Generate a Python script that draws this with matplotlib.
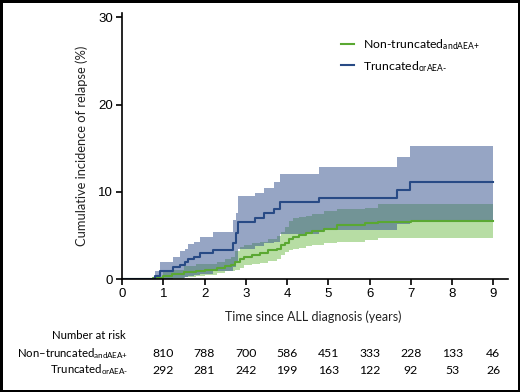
import matplotlib
matplotlib.use("Agg")
import matplotlib.pyplot as plt
from matplotlib.transforms import blended_transform_factory

plt.rcParams['font.family'] = ['Lato', 'DejaVu Sans']
plt.rcParams['mathtext.fontset'] = 'custom'
plt.rcParams['mathtext.rm'] = 'Lato'
plt.rcParams['mathtext.it'] = 'Lato'

# Truncated or AEA- (blue)
t_blue = [0, 0.81, 0.93, 1.23, 1.41, 1.53, 1.61, 1.75, 1.88, 2.2, 2.7, 2.77, 2.81,
          3.23, 3.43, 3.69, 3.83, 4.78, 6.67, 6.99, 9.0]
ci_blue = [0, 0.4, 1.0, 1.4, 1.6, 2.0, 2.3, 2.6, 3.0, 3.4, 4.1, 5.3, 6.6,
           7.0, 7.6, 8.0, 8.8, 9.3, 10.2, 11.1, 11.1]
hi_blue = [0, 1.0, 2.0, 2.6, 3.2, 3.5, 4.0, 4.3, 4.8, 5.4, 6.8, 7.6, 9.5,
           9.9, 10.5, 11.1, 12.1, 12.8, 14.0, 15.3, 15.3]
lo_blue = [0, 0, 0, 0.1, 0.2, 0.3, 0.4, 0.5, 0.6, 0.9, 1.4, 2.0, 3.5,
           3.8, 4.1, 4.3, 5.2, 5.7, 6.3, 6.8, 6.8]

# Non-truncated and AEA+ (green)
t_green = [0, 0.75, 1.0, 1.2, 1.5, 1.8, 2.0, 2.3, 2.5, 2.65, 2.75, 2.85, 2.95, 3.15,
           3.35, 3.55, 3.75, 3.85, 3.95, 4.05, 4.15, 4.3, 4.45, 4.6, 4.9, 5.2,
           5.9, 6.2, 7.0, 9.0]
ci_green = [0, 0.1, 0.4, 0.6, 0.8, 0.9, 1.1, 1.3, 1.5, 1.6, 2.0, 2.3, 2.6, 2.8,
            3.0, 3.3, 3.5, 3.9, 4.2, 4.6, 4.9, 5.1, 5.3, 5.5, 5.8, 6.2,
            6.4, 6.6, 6.7, 6.7]
hi_green = [0, 0.3, 0.9, 1.1, 1.5, 1.7, 1.8, 2.0, 2.3, 2.5, 3.2, 3.7, 3.9, 4.1,
            4.3, 4.6, 5.0, 5.4, 6.0, 6.7, 7.0, 7.1, 7.3, 7.5, 7.8, 8.1,
            8.2, 8.6, 8.6, 8.6]
lo_green = [0, 0, 0, 0, 0.3, 0.4, 0.5, 0.7, 0.9, 1.0, 1.1, 1.3, 1.6, 1.8,
            1.9, 2.1, 2.3, 2.8, 3.1, 3.3, 3.5, 3.6, 3.8, 3.9, 4.2, 4.3,
            4.5, 4.7, 4.7, 4.7]

risk_times = [1, 2, 3, 4, 5, 6, 7, 8, 9]
risk_green = [810, 788, 700, 586, 451, 333, 228, 133, 46]
risk_blue = [292, 281, 242, 199, 163, 122, 92, 53, 26]

label_green = 'Non-truncated$_{\\text{andAEA+}}$'
label_blue = 'Truncated$_{\\text{orAEA-}}$'

fig = plt.figure(figsize=(5.2, 3.92), dpi=100)
fig.patch.set_edgecolor('black')
fig.patch.set_linewidth(2.5)
ax = fig.add_axes([0.2346, 0.2875, 0.742, 0.6796])

ax.fill_between(t_green, lo_green, hi_green, step='post', color='#7dc25a', alpha=0.55, lw=0)
ax.fill_between(t_blue, lo_blue, hi_blue, step='post', color='#2e4d8a', alpha=0.5, lw=0)
ax.plot(t_green, ci_green, drawstyle='steps-post', color='#5aa832', lw=1.5, label=label_green)
ax.plot(t_blue, ci_blue, drawstyle='steps-post', color='#284a85', lw=1.5, label=label_blue)

ax.set_xlim(0, 9.35)
ax.set_ylim(0, 30.5)
ax.set_xticks(range(0, 10))
ax.set_yticks([0, 10, 20, 30])
ax.spines['top'].set_visible(False)
ax.spines['right'].set_visible(False)
for s in ['left', 'bottom']:
    ax.spines[s].set_linewidth(1.2)
ax.tick_params(direction='out', length=4, width=1.2, labelsize=9.5, pad=2.5)
for lab in ax.get_xticklabels() + ax.get_yticklabels():
    lab.set_family('Liberation Sans')
ax.set_ylabel('Cumulative incidence of relapse (%)', fontsize=9.3, color='#222222', labelpad=7)

ax.legend(loc='upper right', bbox_to_anchor=(0.955, 0.95), frameon=False, fontsize=8.8,
          handlelength=1.1, handletextpad=0.7, labelspacing=0.55)

# x label and number-at-risk table
fig.text(0.603, 0.191, 'Time since ALL diagnosis (years)', ha='center', va='center',
         fontsize=9, color='#222222')
fig.text(0.242, 0.145, 'Number at risk', ha='right', va='center', fontsize=8.2)
fig.text(0.247, 0.099, 'Non–truncated$_{\\text{andAEA+}}$', ha='right', va='center', fontsize=8.2)
fig.text(0.247, 0.056, label_blue, ha='right', va='center', fontsize=8.2)

tr = blended_transform_factory(ax.transData, fig.transFigure)
for t, g, b in zip(risk_times, risk_green, risk_blue):
    ax.text(t, 0.099, str(g), transform=tr, ha='center', va='center', fontsize=8.8)
    ax.text(t, 0.056, str(b), transform=tr, ha='center', va='center', fontsize=8.8)

fig.savefig('out.png', dpi=100)
